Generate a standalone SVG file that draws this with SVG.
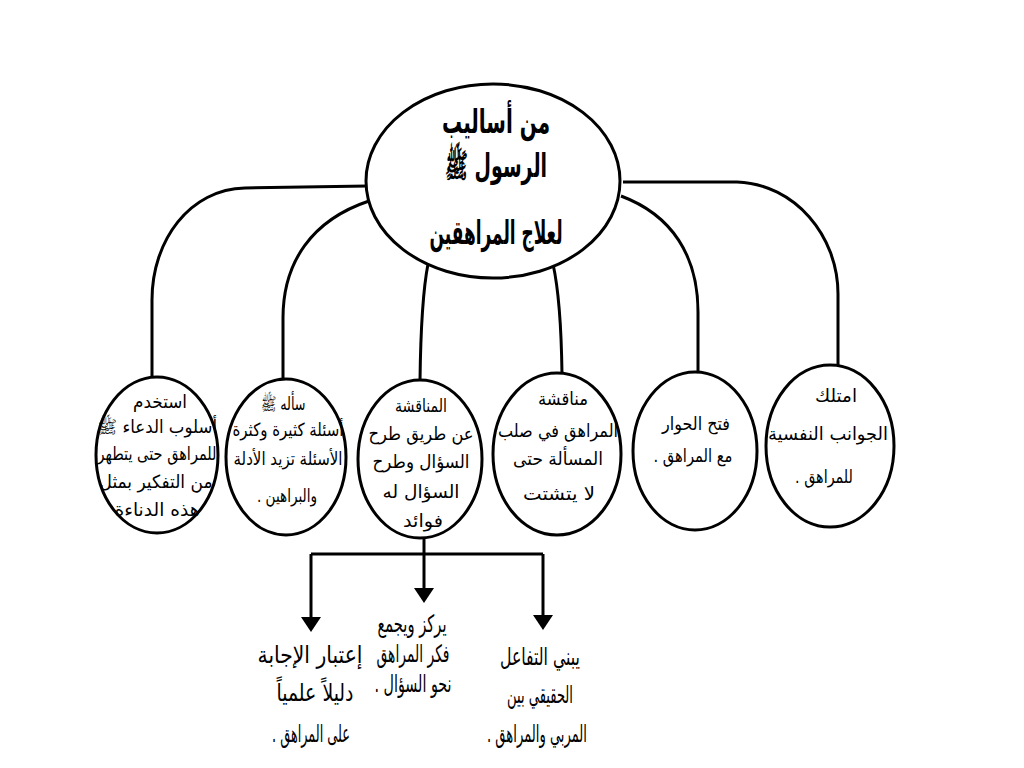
<svg xmlns="http://www.w3.org/2000/svg" width="1024" height="768" viewBox="0 0 1024 768">
<style>
.bg{fill:#ffffff}
.node{fill:#ffffff;stroke:#000;stroke-width:3}
.conn{fill:none;stroke:#000;stroke-width:3}
text{font-family:"DejaVu Sans",sans-serif;fill:#000;text-anchor:middle;direction:rtl;unicode-bidi:embed}
.t{font-size:33px;font-weight:bold}
.s{font-size:18px}
.b{font-size:24px}
</style>
<defs>
<marker id="arr" viewBox="0 0 15 20" refX="5" refY="10" markerWidth="15" markerHeight="20" markerUnits="userSpaceOnUse" orient="auto">
<path d="M0,0 L15,10 L0,20 z" fill="#000"/>
</marker>
</defs>
<rect class="bg" x="0" y="0" width="1024" height="768"/>
<g id="connectors">
<path class="conn" d="M368,186 L245,188 C190,189 152,240 152,300 L152,378"/>
<path class="conn" d="M369,201 C312,220 283,262 283,318 L283,380"/>
<path class="conn" d="M428,264 Q421,300 420,381"/>
<path class="conn" d="M553,264 Q561,300 562,374"/>
<path class="conn" d="M621,196 C672,215 698,256 698,312 L698,373"/>
<path class="conn" d="M623,182 L737,182 C795,184 838,236 838,294 L838,366"/>
<path class="conn" d="M424,538 L424,554 M311,554 L543,554"/>
<path class="conn" d="M311,554 L311,622" marker-end="url(#arr)"/>
<path class="conn" d="M424,554 L424,593" marker-end="url(#arr)"/>
<path class="conn" d="M543,554 L543,620" marker-end="url(#arr)"/>
</g>
<g id="root">
<ellipse class="node" cx="493" cy="181" rx="127" ry="97"/>
<text class="t" x="496" y="133" textLength="108" lengthAdjust="spacingAndGlyphs">من أساليب</text>
<text class="t" x="496" y="177" textLength="102" lengthAdjust="spacingAndGlyphs">الرسول ﷺ</text>
<text class="t" x="496" y="244" textLength="133" lengthAdjust="spacingAndGlyphs">لعلاج المراهقين</text>
</g>
<g id="n1">
<ellipse class="node" cx="157" cy="455" rx="61" ry="78"/>
<text class="s" x="160" y="408" textLength="54" lengthAdjust="spacingAndGlyphs">استخدم</text>
<text class="s" x="157" y="433" textLength="120" lengthAdjust="spacingAndGlyphs">أسلوب الدعاء ﷺ</text>
<text class="s" x="157" y="460" textLength="119" lengthAdjust="spacingAndGlyphs">للمراهق حتى يتطهر</text>
<text class="s" x="156" y="488" textLength="113" lengthAdjust="spacingAndGlyphs">من التفكير بمثل</text>
<text class="s" x="157" y="516" textLength="85" lengthAdjust="spacingAndGlyphs">هذه الدناءة</text>
</g>
<g id="n2">
<ellipse class="node" cx="286" cy="457" rx="60" ry="78"/>
<text class="s" x="283" y="410" textLength="45" lengthAdjust="spacingAndGlyphs">سأله ﷺ</text>
<text class="s" x="288" y="436" textLength="111" lengthAdjust="spacingAndGlyphs">أسئلة كثيرة وكثرة</text>
<text class="s" x="288" y="465" textLength="109" lengthAdjust="spacingAndGlyphs">الأسئلة تزيد الأدلة</text>
<text class="s" x="287" y="502" textLength="60" lengthAdjust="spacingAndGlyphs">والبراهين .</text>
</g>
<g id="n3">
<ellipse class="node" cx="420" cy="459" rx="62" ry="79"/>
<text class="s" x="421" y="412" textLength="52" lengthAdjust="spacingAndGlyphs">المناقشة</text>
<text class="s" x="421" y="440" textLength="105" lengthAdjust="spacingAndGlyphs">عن طريق طرح</text>
<text class="s" x="421" y="468" textLength="97" lengthAdjust="spacingAndGlyphs">السؤال وطرح</text>
<text class="s" x="421" y="498" textLength="77" lengthAdjust="spacingAndGlyphs">السؤال له</text>
<text class="s" x="423" y="527" textLength="40" lengthAdjust="spacingAndGlyphs">فوائد</text>
</g>
<g id="n4">
<ellipse class="node" cx="557" cy="454" rx="64" ry="81"/>
<text class="s" x="563" y="405" textLength="50" lengthAdjust="spacingAndGlyphs">مناقشة</text>
<text class="s" x="558" y="437" textLength="120" lengthAdjust="spacingAndGlyphs">المراهق في صلب</text>
<text class="s" x="558" y="465" textLength="90" lengthAdjust="spacingAndGlyphs">المسألة حتى</text>
<text class="s" x="559" y="500" textLength="72" lengthAdjust="spacingAndGlyphs">لا يتشتت</text>
</g>
<g id="n5">
<ellipse class="node" cx="695" cy="451" rx="62" ry="79"/>
<text class="s" x="696" y="430" textLength="68" lengthAdjust="spacingAndGlyphs">فتح الحوار</text>
<text class="s" x="693" y="462" textLength="79" lengthAdjust="spacingAndGlyphs">مع المراهق .</text>
</g>
<g id="n6">
<ellipse class="node" cx="830" cy="446" rx="64" ry="81"/>
<text class="s" x="836" y="402" textLength="42" lengthAdjust="spacingAndGlyphs">امتلك</text>
<text class="s" x="828" y="440" textLength="120" lengthAdjust="spacingAndGlyphs">الجوانب النفسية</text>
<text class="s" x="824" y="483" textLength="58" lengthAdjust="spacingAndGlyphs">للمراهق .</text>
</g>
<g id="c1">
<text class="b" x="310" y="663" textLength="105" lengthAdjust="spacingAndGlyphs">إعتبار الإجابة</text>
<text class="b" x="315" y="701" textLength="77" lengthAdjust="spacingAndGlyphs">دليلاً علمياً</text>
<text class="b" x="311" y="742" textLength="78" lengthAdjust="spacingAndGlyphs">على المراهق .</text>
</g>
<g id="c2">
<text class="b" x="412" y="632" textLength="69" lengthAdjust="spacingAndGlyphs">يركز ويجمع</text>
<text class="b" x="413" y="662" textLength="73" lengthAdjust="spacingAndGlyphs">فكر المراهق</text>
<text class="b" x="413" y="692" textLength="77" lengthAdjust="spacingAndGlyphs">نحو السؤال .</text>
</g>
<g id="c3">
<text class="b" x="540" y="665" textLength="80" lengthAdjust="spacingAndGlyphs">يبني التفاعل</text>
<text class="b" x="540" y="703" textLength="66" lengthAdjust="spacingAndGlyphs">الحقيقي بين</text>
<text class="b" x="537" y="742" textLength="100" lengthAdjust="spacingAndGlyphs">المربي والمراهق .</text>
</g>
</svg>
